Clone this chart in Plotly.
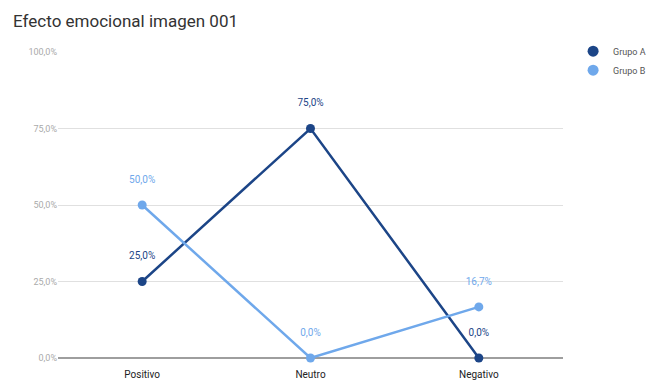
import plotly.graph_objects as go

categories = ["Positivo", "Neutro", "Negativo"]
grupo_a = [25.0, 75.0, 0.0]
grupo_b = [50.0, 0.0, 16.7]
series_names = ["Grupo A", "Grupo B"]
colors = ["#1c4587", "#6fa8eb"]
y_ticks = [0, 25, 50, 75, 100]
y_tick_labels = ["0,0%", "25,0%", "50,0%", "75,0%", "100,0%"]

fig = go.Figure()
for name, vals, col in zip(series_names, [grupo_a, grupo_b], colors):
    fig.add_trace(go.Scatter(
        x=categories, y=vals, mode="lines+markers+text", name=name,
        line=dict(color=col, width=2.5), marker=dict(color=col, size=9),
        text=[f"{v:.1f}%".replace(".", ",") + "<br> " for v in vals],
        textposition="top center", textfont=dict(color=col, size=10, family="Roboto"),
        showlegend=False, cliponaxis=False, hoverinfo="skip",
    ))
    fig.add_trace(go.Scatter(
        x=[None], y=[None], mode="markers", name=name,
        marker=dict(color=col, size=11), showlegend=True,
    ))

fig.update_layout(
    width=656, height=386,
    margin=dict(l=58, r=93, t=52, b=28, autoexpand=False),
    paper_bgcolor="white", plot_bgcolor="white",
    title=dict(text="Efecto emocional imagen 001", x=0.02, xanchor="left", y=0.945, yanchor="middle",
               font=dict(size=17, color="#333333", family="Roboto")),
    font=dict(family="Roboto"),
    xaxis=dict(range=[-0.5, 2.5], showgrid=False, zeroline=False, showline=False,
               tickfont=dict(size=10, color="#222222"), ticks="outside", ticklen=7, tickcolor="rgba(0,0,0,0)"),
    yaxis=dict(range=[0, 100], tickvals=y_ticks, ticktext=y_tick_labels, showgrid=True,
               gridcolor="#e0e0e0", gridwidth=1, zeroline=True, zerolinecolor="#9e9e9e", zerolinewidth=1.5,
               tickfont=dict(size=9, color="#aaaaaa"), ticks="", showline=False),
    legend=dict(x=1.02, y=1.05, xanchor="left", yanchor="top", font=dict(size=9, color="#555555"),
                tracegroupgap=2, itemwidth=30),
)

fig.write_html("out.html", config={"displayModeBar": False},
               post_script="document.body.style.margin='0';")
